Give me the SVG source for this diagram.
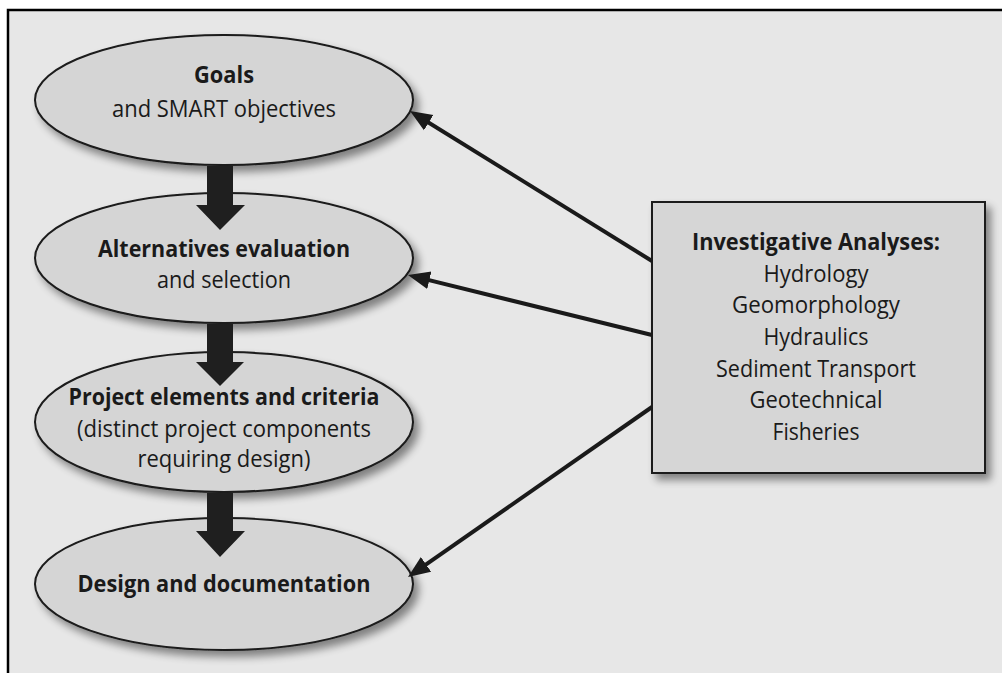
<svg xmlns="http://www.w3.org/2000/svg" width="1002" height="673" viewBox="0 0 1002 673">
<defs>
<filter id="sh" x="-20%" y="-20%" width="140%" height="150%">
<feGaussianBlur in="SourceAlpha" stdDeviation="4"/>
<feOffset dx="5" dy="6" result="b"/>
<feComponentTransfer><feFuncA type="linear" slope="0.45"/></feComponentTransfer>
<feMerge><feMergeNode/><feMergeNode in="SourceGraphic"/></feMerge>
</filter>
<marker id="ah" markerUnits="userSpaceOnUse" markerWidth="24" markerHeight="20" viewBox="0 0 24 20" refX="16" refY="10" orient="auto">
<path d="M0,1 L22,10 L0,19 z" fill="#1a1a1a"/>
</marker>
<style>
.bg{fill:#e7e7e7}
.el{fill:#d5d5d5;stroke:#1a1a1a;stroke-width:2;filter:url(#sh)}
.bx{fill:#d6d6d6;stroke:#1a1a1a;stroke-width:2;filter:url(#sh)}
text{font-family:"Open Sans","Liberation Sans",sans-serif;font-size:23px;fill:#1a1a1a;text-anchor:middle}
.b{font-weight:bold}
.thin{fill:none;stroke:#1a1a1a;stroke-width:4;marker-end:url(#ah)}
.thick{fill:#1f1f1f}
</style>
</defs>
<rect x="0" y="0" width="1002" height="673" fill="#ffffff"/>
<rect class="bg" x="8" y="10" width="994" height="663"/>
<path d="M8,673 L8,10 L1002,10" fill="none" stroke="#000" stroke-width="2.5"/>

<g id="node-goals">
<ellipse class="el" cx="224" cy="100" rx="189" ry="65"/>
<text class="b" x="224" y="83" textLength="60" lengthAdjust="spacingAndGlyphs">Goals</text>
<text x="224" y="117" textLength="224" lengthAdjust="spacingAndGlyphs">and SMART objectives</text>
</g>
<g id="node-alternatives">
<ellipse class="el" cx="224" cy="258" rx="189" ry="65"/>
<text class="b" x="224" y="257" textLength="252" lengthAdjust="spacingAndGlyphs">Alternatives evaluation</text>
<text x="224" y="288" textLength="134" lengthAdjust="spacingAndGlyphs">and selection</text>
</g>
<g id="node-project">
<ellipse class="el" cx="224" cy="422" rx="189" ry="70"/>
<text class="b" x="224" y="405" textLength="311" lengthAdjust="spacingAndGlyphs">Project elements and criteria</text>
<text x="224" y="437" textLength="294" lengthAdjust="spacingAndGlyphs">(distinct project components</text>
<text x="224" y="467" textLength="173" lengthAdjust="spacingAndGlyphs">requiring design)</text>
</g>
<g id="node-design">
<ellipse class="el" cx="224" cy="584" rx="189" ry="66"/>
<text class="b" x="224" y="592" textLength="293" lengthAdjust="spacingAndGlyphs">Design and documentation</text>
</g>
<g id="node-analyses">
<rect class="bx" x="652" y="202" width="333" height="271"/>
<text class="b" x="816" y="250" textLength="248" lengthAdjust="spacingAndGlyphs">Investigative Analyses:</text>
<text x="816" y="282" textLength="105" lengthAdjust="spacingAndGlyphs">Hydrology</text>
<text x="816" y="313" textLength="168" lengthAdjust="spacingAndGlyphs">Geomorphology</text>
<text x="816" y="345" textLength="105" lengthAdjust="spacingAndGlyphs">Hydraulics</text>
<text x="816" y="377" textLength="200" lengthAdjust="spacingAndGlyphs">Sediment Transport</text>
<text x="816" y="408" textLength="133" lengthAdjust="spacingAndGlyphs">Geotechnical</text>
<text x="816" y="440" textLength="87" lengthAdjust="spacingAndGlyphs">Fisheries</text>
</g>

<g id="connectors">
<polygon class="thick" points="207,166 233,166 233,205 245,205 220,230 196,205 207,205"/>
<polygon class="thick" points="207,324 233,324 233,362 244,362 220,386 196,362 207,362"/>
<polygon class="thick" points="207,493 233,493 233,531 245,531 220,557 196,531 207,531"/>
<path class="thin" d="M652,261 L415.1,114.2"/>
<path class="thin" d="M652,335 L413.8,276.4"/>
<path class="thin" d="M652,407 L412.9,573.6"/>
</g>
</svg>
